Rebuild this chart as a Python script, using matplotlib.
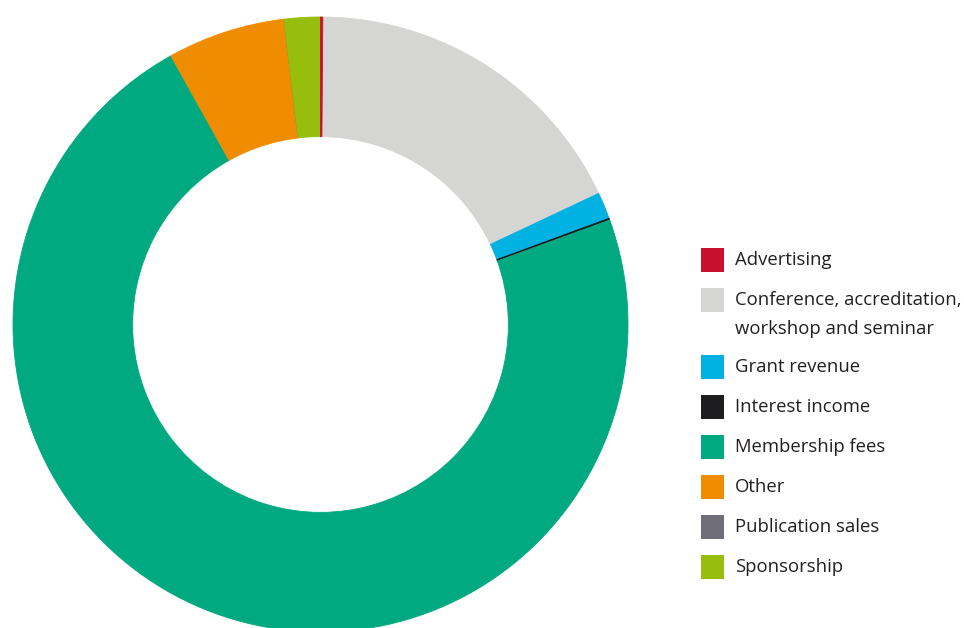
import matplotlib.pyplot as plt
from matplotlib.patches import Rectangle

categories = ["Advertising",
              "Conference, accreditation,\nworkshop and seminar",
              "Grant revenue",
              "Interest income",
              "Membership fees",
              "Other",
              "Publication sales",
              "Sponsorship"]
shares = [0.12, 17.9, 1.4, 0.05, 72.6, 6.2, 0.0, 1.9]
colours = ["#C8102E", "#D5D6D4", "#00B1E1", "#1D1D20",
           "#00A97F", "#F08C00", "#6E6D78", "#97BE0D"]

W, H = 964, 628
fig = plt.figure(figsize=(W / 100, H / 100), dpi=100)

## ring: centre (320.5, 324.5) px, outer radius 307.5 px, inner 188 px
cx, cy, r = 320.5, 324.5, 307.5
ax = fig.add_axes([(cx - r) / W, 1 - (cy + r) / H, 2 * r / W, 2 * r / H])
wedges, _ = ax.pie(shares, colors=colours, startangle=90, counterclock=False,
                   radius=1.0,
                   wedgeprops=dict(width=0.389, linewidth=0.6))
for w, c in zip(wedges, colours):
    w.set_edgecolor(c)
# keep the hairline slices visible over their neighbours
wedges[0].set_zorder(5)
wedges[3].set_zorder(5)
ax.set_xlim(-1, 1)
ax.set_ylim(-1, 1)
ax.set_aspect("equal")
ax.axis("off")

## legend drawn by hand
box_x, box_w, box_h = 701, 23, 24
text_x = 735
row_y = 260
for lab, col in zip(categories, colours):
    fig.patches.append(Rectangle(((box_x) / W, 1 - (row_y + box_h / 2) / H),
                                 box_w / W, box_h / H, facecolor=col,
                                 edgecolor="none", transform=fig.transFigure))
    lines = lab.split("\n")
    for k, ln in enumerate(lines):
        fig.text(text_x / W, 1 - (row_y + 29 * k) / H, ln, fontsize=13.3,
                 family="Open Sans", color="#231F20", va="center", ha="left")
    row_y += 40 + 27 * (len(lines) - 1)

fig.savefig("out.png", dpi=100)
